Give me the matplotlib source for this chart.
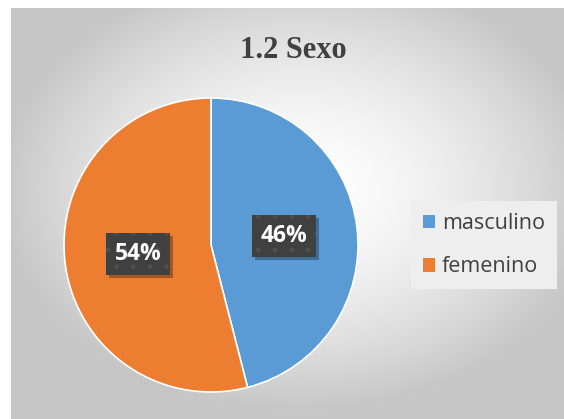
import numpy as np
import matplotlib
matplotlib.use("Agg")
import matplotlib.pyplot as plt
from matplotlib import patheffects as pe
from matplotlib.patches import Rectangle
from matplotlib.transforms import ScaledTranslation

# Data
title = "1.2 Sexo"
categories = ["masculino", "femenino"]
values = [46, 54]
colors = ["#5B9BD5", "#ED7D31"]

W, H = 564, 419
fig = plt.figure(figsize=(W / 100, H / 100), dpi=100)
fig.patch.set_facecolor("white")
plt.rcParams["hatch.linewidth"] = 1.0

# Background frame with radial gradient
x0, y0 = 11, 8
bg = fig.add_axes([x0 / W, 0, 1 - x0 / W, 1 - y0 / H])
bg.set_axis_off()
ny, nx = 200, 300
yy, xx = np.mgrid[0:ny, 0:nx]
px = x0 + xx / (nx - 1) * (W - x0)
py = y0 + yy / (ny - 1) * (H - y0)
cx, cy = 300, 190
rx = np.abs(px - cx) / 300.0
ry = np.abs(py - cy) / 220.0
r = np.sqrt(rx ** 2 + ry ** 2)
val = 1.0 - 0.22 * np.clip(r, 0, 1) ** 1.6
img = np.dstack([val, val, val])
bg.imshow(img, extent=[0, 1, 0, 1], aspect="auto", origin="upper")
bg.set_xlim(0, 1)
bg.set_ylim(0, 1)

# Pie
cxp, cyp, rad = 211, 245, 147
ax = fig.add_axes([(cxp - rad) / W, (H - cyp - rad) / H, 2 * rad / W, 2 * rad / H])
ax.set_axis_off()
wedges, texts, autotexts = ax.pie(
    values, colors=colors, startangle=90, counterclock=False,
    autopct=lambda p: f"{p:.0f}%", pctdistance=0.5, radius=1,
    wedgeprops=dict(linewidth=1.2, edgecolor="white"),
    textprops=dict(color="white", fontsize=16.5, fontweight="bold", family="Open Sans"),
)
ax.set_xlim(-1, 1)
ax.set_ylim(-1, 1)
bw, bh = 0.64, 0.42  # label box size in inches
for t in autotexts:
    tx, ty = t.get_position()
    t.set_va("center")
    t.set_zorder(5)
    trans = fig.dpi_scale_trans + ScaledTranslation(tx, ty, ax.transData)
    shadow = Rectangle((-bw / 2 + 0.03, -bh / 2 - 0.03), bw, bh, transform=trans,
                       facecolor="black", alpha=0.3, linewidth=0, zorder=3)
    ax.add_patch(shadow)
    box = Rectangle((-bw / 2, -bh / 2), bw, bh, transform=trans, facecolor="#404040",
                    edgecolor="#4f4f4f", hatch=".", linewidth=0, zorder=4)
    ax.add_patch(box)

# Title
fig.text(293 / W, 1 - 58 / H, title, ha="center", va="baseline",
         fontsize=22, fontweight="bold", family="Liberation Serif", color="#404040")

# Legend
leg = fig.legend(wedges, categories, loc="upper left",
                 bbox_to_anchor=(411 / W, 1 - 201 / H), borderaxespad=0,
                 frameon=True, fancybox=False, facecolor="#eeeeee", edgecolor="none",
                 framealpha=1, handlelength=0.58, handleheight=0.58, handletextpad=0.3,
                 labelspacing=1.05, borderpad=0.55,
                 prop=dict(family="Open Sans", size=15.5))
for t in leg.get_texts():
    t.set_color("#404040")
for h in leg.legend_handles:
    h.set_edgecolor("none")

fig.savefig("out.png", dpi=100, facecolor="white")
